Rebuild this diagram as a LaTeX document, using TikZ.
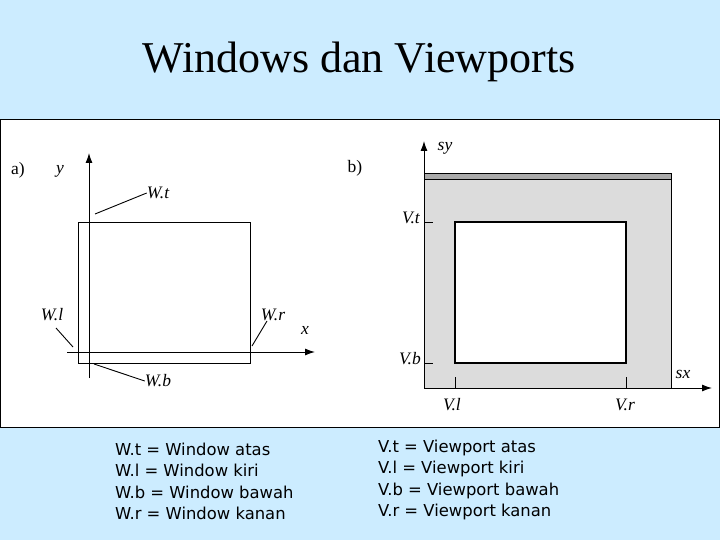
\documentclass[tikz,border=0pt]{standalone}
\usepackage{fontspec}
\setmainfont{Liberation Serif}
\newfontfamily\bodyfont{DejaVu Sans}
\usetikzlibrary{arrows.meta}
\definecolor{bgblue}{RGB}{204,236,255}
\definecolor{lgray}{RGB}{220,220,220}
\definecolor{dgray}{RGB}{170,170,170}
\begin{document}
\begin{tikzpicture}[x=1pt,y=-1pt,
  axis/.style={line width=1pt,-{Latex[length=10pt,width=7pt]}},
  thin line/.style={line width=0.9pt},
  lbl/.style={font=\fontsize{17.5}{20}\selectfont\itshape, inner sep=0pt},
  tag/.style={font=\fontsize{17.5}{20}\selectfont, inner sep=0pt},
  body/.style={font=\bodyfont\fontsize{16.4}{20}\selectfont, anchor=base west, inner sep=0pt}]
\fill[bgblue] (0,0) rectangle (720,540);
\useasboundingbox (0,0) rectangle (720,540);
\node[anchor=base, font=\fontsize{44}{48}\selectfont, inner sep=0pt] (title) at (359,73) {Windows dan Viewports};
\draw[fill=white, line width=1pt] (0.5,120) rectangle (719.5,427);

% ---- a) window
\node[tag] (a) at (18,170) {a)};
\node[lbl] (ylab) at (60,171) {y};
\coordinate (ybot) at (89,378); \coordinate (ytop) at (89,153);
\coordinate (xlft) at (67,352); \coordinate (xrgt) at (315,352);
\draw[axis] (ybot) -- (ytop);
\draw[axis] (xlft) -- (xrgt);
\node[draw, thin line, inner sep=0pt, minimum width=172pt, minimum height=141pt] (win) at (164,292.5) {};
\node[lbl] (xlab) at (305,330) {x};
\node[lbl] (Wt) at (158,193) {W.t};
\node[lbl] (Wl) at (52,315) {W.l};
\node[lbl] (Wr) at (273,315) {W.r};
\node[lbl] (Wb) at (158,381) {W.b};
\coordinate (wt1) at (95,214); \coordinate (wl1) at (73,347);
\coordinate (wr1) at (252,346); \coordinate (wb1) at (94,364);
\coordinate (wl0) at (56,328); \coordinate (wr0) at (267,321);
\draw[thin line] (wt1) -- (Wt.west);
\draw[thin line] (wl0) -- (wl1);
\draw[thin line] (wr0) -- (wr1);
\draw[thin line] (wb1) -- (Wb.west);

% ---- b) viewport
\node[tag] (b) at (355,168) {b)};
\fill[lgray] (424,173) rectangle (671,388);
\fill[dgray] (424,173) rectangle (671,179);
\draw[thin line] (424,173) -- (671,173) -- (671,388);
\draw[line width=0.6pt] (424,179) -- (671,179);
\node[draw, fill=white, line width=1.2pt, inner sep=0pt, minimum width=171pt, minimum height=141pt] (vp) at (540.5,292.5) {};
\coordinate (o) at (424,388);
\coordinate (sytop) at (424,141); \coordinate (sxrgt) at (712,388);
\draw[axis] (o) -- (sytop);
\draw[axis] (o) -- (sxrgt);
\node[lbl] (sy) at (445,148) {sy};
\node[lbl] (sx) at (683,374) {sx};
\node[lbl] (Vt) at (411,218) {V.t};
\node[lbl] (Vb) at (410,359) {V.b};
\node[lbl] (Vl) at (452,405) {V.l};
\node[lbl] (Vr) at (625,405) {V.r};
\draw[thin line] (424,222) -- (433,222);
\draw[thin line] (424,363) -- (433,363);
\draw[thin line] (455,377) -- (455,388);
\draw[thin line] (626,377) -- (626,388);

% ---- legend
\node[body] (l1) at (115,455) {W.t = Window atas};
\node[body] (l2) at (115,476.5) {W.l = Window kiri};
\node[body] (l3) at (115,498) {W.b = Window bawah};
\node[body] (l4) at (115,519) {W.r = Window kanan};
\node[body] (r1) at (378,452) {V.t = Viewport atas};
\node[body] (r2) at (378,473.5) {V.l = Viewport kiri};
\node[body] (r3) at (378,495) {V.b = Viewport bawah};
\node[body] (r4) at (378,516) {V.r = Viewport kanan};
\end{tikzpicture}
\end{document}
